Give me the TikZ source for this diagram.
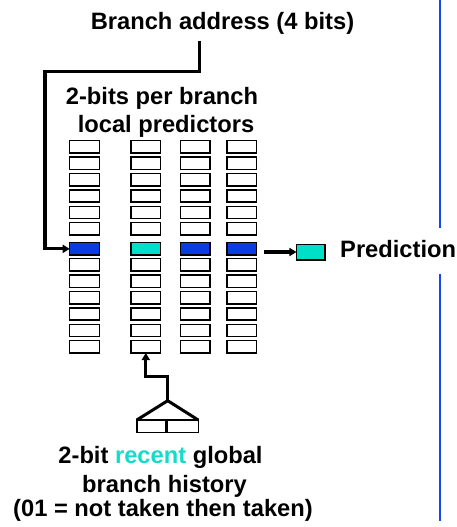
\documentclass[tikz,border=0pt]{standalone}
\usepackage{fontspec}
\setmainfont{Liberation Sans}
\usetikzlibrary{arrows.meta,calc}
\definecolor{predblue}{RGB}{10,59,227}
\definecolor{predcyan}{RGB}{0,224,200}
\definecolor{recentcyan}{RGB}{20,220,200}
\definecolor{sepblue}{RGB}{20,70,245}
\tikzset{
  cell/.style={draw=black, line width=1.5pt, minimum width=29.6pt, minimum height=12.3pt, inner sep=0pt, outer sep=0pt, fill=white},
  hot/.style={cell, fill=predblue},
  warm/.style={cell, fill=predcyan},
  conn/.style={line width=3.2pt, -{Triangle[length=7pt,width=8pt]}},
  lbl/.style={font=\bfseries\fontsize{23.7pt}{28pt}\selectfont, inner sep=0pt, anchor=base},
}
\begin{document}
\begin{tikzpicture}[x=1pt,y=-1pt]
\useasboundingbox (0,0) rectangle (457,527);
% separator line
\draw[sepblue, line width=2.6pt] (440,0) -- (440,227.5);
\draw[sepblue, line width=2.6pt] (440,274.3) -- (440,521);
% labels
\node[lbl] (addr) at (222.5,30) {Branch address (4 bits)};
\node[lbl] (loc1) at (162,104) {2-bits per branch};
\node[lbl] (loc2) at (166,132.7) {local predictors};
\node[lbl] (gh1) at (160.5,463) {2-bit \textcolor{recentcyan}{recent} global};
\node[lbl] (gh2) at (164.5,492.7) {branch history};
\node[lbl] (gh3) at (163,516) {(01 = not taken then taken)};
\node[lbl, anchor=base west] (predtxt) at (340,257.3) {Prediction};
% predictor table cells
\foreach \c/\x in {1/84.5, 2/145.8, 3/195.2, 4/241.8}{
  \foreach \r in {1,...,6}{
    \node[cell] (c\c-\r) at (\x,{146.85+16.4*(\r-1)}) {};
  }
  \foreach \r in {8,...,13}{
    \node[cell] (c\c-\r) at (\x,{264.85+16.4*(\r-8)}) {};
  }
}
\node[hot]  (c1-7) at (84.5,248.85) {};
\node[warm] (c2-7) at (145.8,248.85) {};
\node[hot]  (c3-7) at (195.2,248.85) {};
\node[hot]  (c4-7) at (241.8,248.85) {};
% prediction box
\node[cell, fill=predcyan, minimum width=28.5pt, minimum height=15.2pt] (pred) at (310.7,252.3) {};
% history register
\node[cell, minimum width=29.2pt, minimum height=12.6pt] (h1) at (151.35,426.3) {};
\node[cell, minimum width=30.8pt, minimum height=12.6pt] (h2) at (182.85,426.3) {};
\coordinate (apex) at (167.7,400.7);
\coordinate (a0) at (199.3,40.7);
\coordinate (a1) at (199.3,71.7);
\coordinate (a2) at (45,71.7);
\coordinate (p0) at (264,252);
\coordinate (g1) at (167.7,376.7);
% connectors
\draw[conn] (a0) -- (a1) -- (a2) |- (c1-7.west);
\draw[conn] (p0) -- (p0 -| pred.west);
\draw[line width=3pt, line join=miter] (h1.north west) -- (apex) -- (h2.north east);
\draw[conn] (apex) -- (g1) -| (c2-13.south);
\end{tikzpicture}
\end{document}
